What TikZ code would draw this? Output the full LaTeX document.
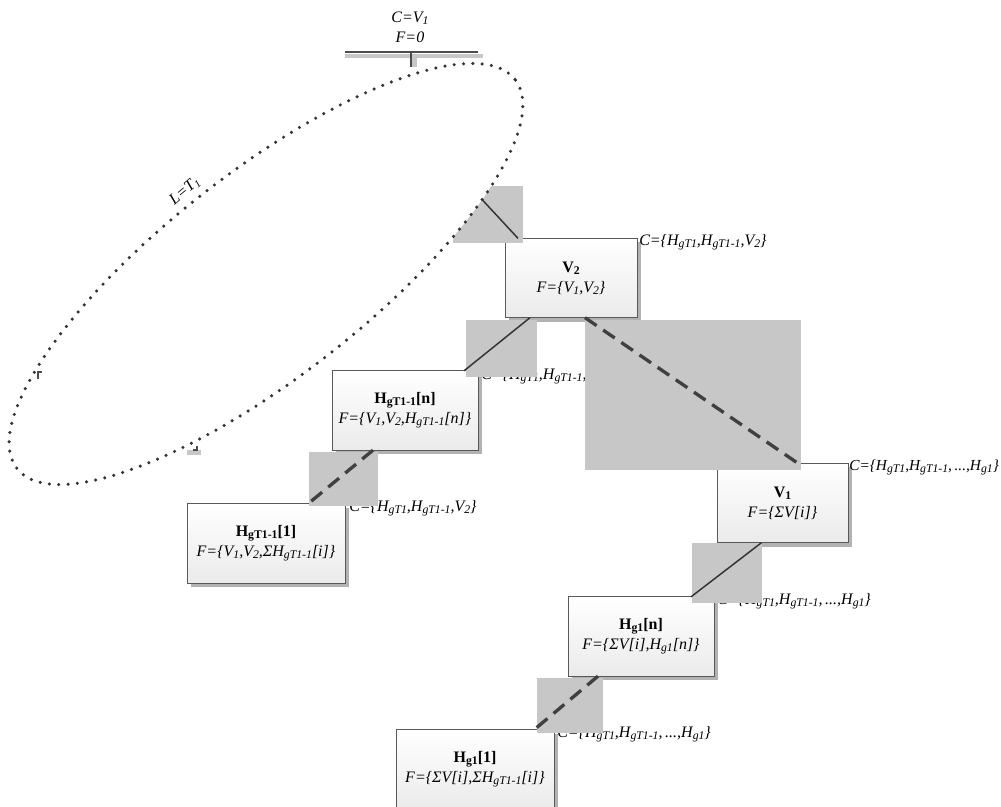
\documentclass[tikz,border=0pt]{standalone}
\usepackage{fontspec}
\setmainfont{Liberation Serif}
\usetikzlibrary{calc,shapes.geometric,shadows}
\newcommand{\sbs}[1]{\raisebox{-0.3ex}{\fontsize{8.8}{9}\selectfont #1}}
\newcommand{\dts}{,\,...,}

\begin{document}
\fontsize{12}{15}\selectfont
\begin{tikzpicture}[x=0.75pt, y=-0.75pt,
      box/.style={draw=black!65, line width=0.7pt, top color=white, bottom color=black!8,
                  minimum height=59.5pt, align=center, inner sep=0pt, outer sep=0pt,
                  drop shadow={shadow xshift=3pt, shadow yshift=-3pt, fill=black!30, opacity=1}},
      lbl/.style={anchor=west, inner sep=0pt, font=\itshape},
      shade/.style={fill=black!22},
      link/.style={draw=black!80, line width=1.1pt},
      dlink/.style={draw=black!75, line width=2.5pt, dash pattern=on 10.5pt off 6pt}
    ]
      \useasboundingbox (0,0) rectangle (1001,807);

      % V2 branch
      \node[box, minimum width=99pt] (v2) at (571,278)
        {\textbf{V\sbs{2}}\\\textit{F=\{V\sbs{1},V\sbs{2}\}}};
      \node[box, minimum width=109.5pt] (htn) at (405,410.5)
        {\textbf{H\sbs{gT1-1}[n]}\\\textit{F=\{V\sbs{1},V\sbs{2},H\sbs{gT1-1}[n]\}}};
      \node[box, minimum width=118.5pt] (htone) at (266,543.5)
        {\textbf{H\sbs{gT1-1}[1]}\\\textit{F=\{V\sbs{1},V\sbs{2},ΣH\sbs{gT1-1}[i]\}}};
      % V1 branch
      \node[box, minimum width=98.25pt] (v1) at (782.5,503)
        {\textbf{V\sbs{1}}\\\textit{F=\{ΣV[i]\}}};
      \node[box, minimum width=109.5pt] (hgn) at (641,636.5)
        {\textbf{H\sbs{g1}[n]}\\\textit{F=\{ΣV[i],H\sbs{g1}[n]\}}};
      \node[box, minimum width=118.5pt] (hgone) at (475,769.5)
        {\textbf{H\sbs{g1}[1]}\\\textit{F=\{ΣV[i],ΣH\sbs{gT1-1}[i]\}}};

      % C labels
      \node[lbl] (cv2) at ($(v2.north east)+(2,4)$) {C=\{H\sbs{gT1},H\sbs{gT1-1},V\sbs{2}\}};
      \node[lbl] (chtn) at ($(htn.north east)+(3,5)$) {C=\{H\sbs{gT1},H\sbs{gT1-1},V\sbs{2}\}};
      \node[lbl] (chtone) at ($(htone.north east)+(4,4)$) {C=\{H\sbs{gT1},H\sbs{gT1-1},V\sbs{2}\}};
      \node[lbl, font=\itshape\fontsize{11.5}{14}\selectfont] (cv1) at ($(v1.north east)+(1,4)$)
        {C=\{H\sbs{gT1},H\sbs{gT1-1}\dts H\sbs{g1}\}};
      \node[lbl] (chgn) at ($(hgn.north east)+(3,4)$) {C=\{H\sbs{gT1},H\sbs{gT1-1}\dts H\sbs{g1}\}};
      \node[lbl] (chgone) at ($(hgone.north east)+(3,4)$) {C=\{H\sbs{gT1},H\sbs{gT1-1}\dts H\sbs{g1}\}};

      % grey blocks
      \fill[shade] (453,186) rectangle (523,243);
      \fill[shade] (466,320) rectangle (537,377);
      \fill[shade] (585,320) rectangle (801,470);
      \fill[shade] (309,452) rectangle (378,506);
      \fill[shade] (692,543) rectangle (762,603);
      \fill[shade] (537,678) rectangle (603,733);

      % level T1
      \node[ellipse, draw=black!80, fill=white, line width=2.6pt, line cap=round,
            dash pattern=on 0pt off 7pt, inner sep=0pt, outer sep=0pt,
            minimum width=474pt, minimum height=153pt, rotate=38] (lvl) at (266,274) {};
      \node[rotate=40, font=\itshape, inner sep=0pt] (llvl) at (185,191) {L=T\textsubscript{1}};
      \draw[black!70, line width=0.8pt] (38,379) -- (38,372) -- (42,372);
      \fill[shade] (187,450) rectangle (201,455);
      \draw[black!70, line width=0.8pt] (193,450) -- (197,450) -- (197,446);

      % root
      \node[align=center, font=\itshape] (top) at (410,27) {C=V\sbs{1}\\F=0};
      \coordinate (barl) at (345,52);
      \coordinate (barr) at (478,52);
      \coordinate (root) at (411,52);
      \fill[shade] (345,54) rectangle (483,58);
      \fill[shade] (411,58) rectangle (417,67);
      \draw[black!70, line width=1.5pt] (barl) -- (barr);
      \draw[black!70, line width=1.5pt] (root) -- ++(0,15);

      % connectors
      \draw[link] (lvl.-19) -- ($(v2.north west)+(13,0)$);
      \draw[link] ($(v2.south)+(-41,0)$) -- ($(htn.north east)+(-14,0)$);
      \draw[dlink] ($(v2.south)+(14,0)$) -- ($(v1.north west)+(81,0)$);
      \draw[dlink] ($(htn.south)+(-32,0)$) -- ($(htone.north east)+(-37,0)$);
      \draw[link] ($(v1.south)+(-21,0)$) -- ($(hgn.north east)+(-23,0)$);
      \draw[dlink] ($(hgn.south)+(-43,0)$) -- ($(hgone.north east)+(-20,0)$);
    \end{tikzpicture}
\end{document}
